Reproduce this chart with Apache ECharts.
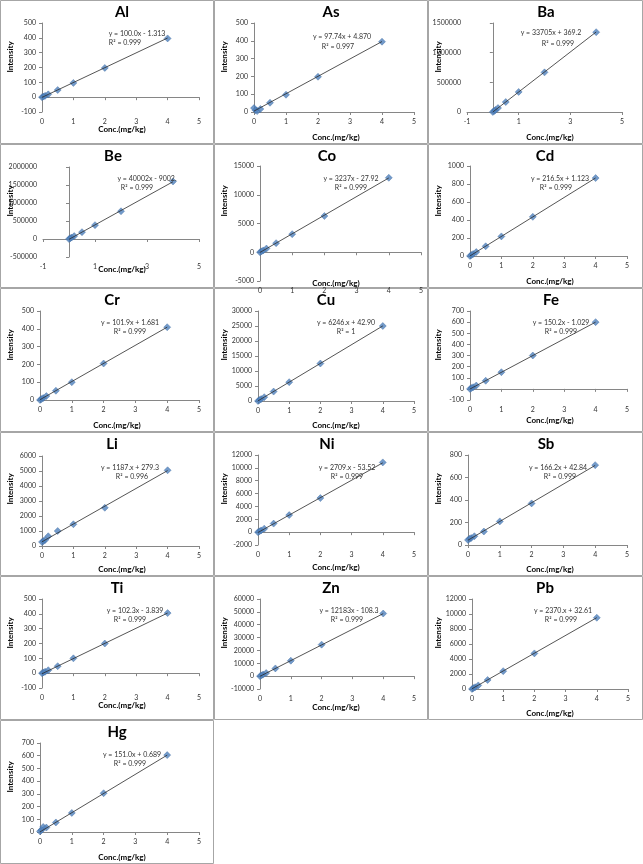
<!DOCTYPE html>
<html><head><meta charset="utf-8">
<script src="https://cdn.jsdelivr.net/npm/echarts@6/dist/echarts.min.js"></script>
<style>html,body{margin:0;padding:0;background:#fff}#c{width:643px;height:864px}</style>
</head><body><div id="c"></div>
<script>
// ---------------- data ----------------
const elements = ['Al','As','Ba','Be','Co','Cd','Cr','Cu','Fe','Li','Ni','Sb','Ti','Zn','Pb','Hg'];
const conc = [0, 0.05, 0.1, 0.2, 0.5, 1, 2, 4];
const intensityAl = [0, 4, 9, 19, 48, 96, 197, 396];
const intensityAs = [22, 10, 5, 17, 52, 97, 198, 395];
const intensityBa = [1000, 17000, 34000, 67000, 168000, 338000, 668000, 1345000];
const intensityBe = [0, 20000, 40000, 80000, 190000, 385000, 770000, 1600000];
const intensityCo = [0, 160, 320, 640, 1580, 3150, 6300, 12950];
const intensityCd = [0, 11, 22, 44, 108, 218, 435, 866];
const intensityCr = [0, 5, 11, 22, 52, 100, 205, 409];
const intensityCu = [0, 320, 640, 1280, 3150, 6280, 12500, 25000];
const intensityFe = [0, 8, 15, 30, 73, 150, 300, 600];
const intensityLi = [270, 330, 400, 650, 1000, 1450, 2550, 5050];
const intensityNi = [0, 130, 270, 540, 1330, 2650, 5300, 10850];
const intensitySb = [45, 55, 62, 78, 120, 210, 370, 710];
const intensityTi = [0, 5, 10, 20, 47, 100, 200, 405];
const intensityZn = [0, 600, 1200, 2400, 6000, 12000, 24500, 48700];
const intensityPb = [0, 120, 240, 480, 1200, 2380, 4750, 9500];
const intensityHg = [5, 15, 40, 35, 75, 150, 305, 605];
const intensities = [intensityAl, intensityAs, intensityBa, intensityBe, intensityCo, intensityCd, intensityCr, intensityCu,
  intensityFe, intensityLi, intensityNi, intensitySb, intensityTi, intensityZn, intensityPb, intensityHg];
// trendline slope / intercept as drawn (Ba and Be labels show a truncated slope; the drawn line follows the points)
const slopes = [100.0, 97.74, 337050, 400020, 3237, 216.5, 101.9, 6246, 150.2, 1187, 2709, 166.2, 102.3, 12183, 2370, 151.0];
const intercepts = [-1.313, 4.870, 369.2, -9002, -27.92, 1.123, 1.681, 42.90, -1.029, 279.3, -53.52, 42.84, -3.839, -108.3, 32.61, 0.689];
const eqLabels = ['y = 100.0x - 1.313','y = 97.74x + 4.870','y = 33705x + 369.2','y = 40002x - 9002.','y = 3237x - 27.92',
  'y = 216.5x + 1.123','y = 101.9x + 1.681','y = 6246.x + 42.90','y = 150.2x - 1.029','y = 1187.x + 279.3',
  'y = 2709.x - 53.52','y = 166.2x + 42.84','y = 102.3x - 3.839','y = 12183x - 108.3','y = 2370.x + 32.61','y = 151.0x + 0.689'];
const r2Labels = ['R² = 0.999','R² = 0.997','R² = 0.999','R² = 0.999','R² = 0.999','R² = 0.999','R² = 0.999','R² = 1',
  'R² = 0.999','R² = 0.996','R² = 0.999','R² = 0.999','R² = 0.999','R² = 0.999','R² = 0.999','R² = 0.999'];
const yMin  = [-100, 0, 0, -500000, -5000, 0, 0, 0, -100, 0, -2000, 0, -100, -10000, 0, 0];
const yMax  = [500, 500, 1500000, 2000000, 15000, 1000, 500, 30000, 700, 6000, 12000, 800, 500, 60000, 12000, 700];
const yStep = [100, 100, 500000, 500000, 5000, 200, 100, 5000, 100, 1000, 2000, 200, 100, 10000, 2000, 100];
const xMin  = [0, 0, -1, -1, 0, 0, 0, 0, 0, 0, 0, 0, 0, 0, 0, 0];
const xMax  = [5, 5, 5, 5, 5, 5, 5, 5, 5, 5, 5, 5, 5, 5, 5, 5];
const xStep = [1, 1, 2, 2, 1, 1, 1, 1, 1, 1, 1, 1, 1, 1, 1, 1];
const xTitle = 'Conc.(mg/kg)';
const yTitle = 'Intensity';

// ---------------- layout (panel-relative pixels) ----------------
// [x0, x1, y0, y1, titleX, eqX, eqY, r2X, r2Y, xNameX, xNameY]
const layout = [
  [42,199,23,112, 122, 137,34, 125,43, 122,129],
  [40,200,23,112, 117, 128,37, 124,47, 122,137],
  [39,194,23,112, 118, 123,33, 130,44, 122,137],
  [43,199,23,113, 113, 147,35, 137,44, 122,125],
  [46,207,22,137, 113, 137,35, 137,44, 122,139],
  [42,199,22,112, 117, 132,35, 128,44, 122,137],
  [40,199,23,112, 112, 130,35, 130,44, 117,137],
  [44,200,23,113, 112, 132,35, 132,44, 122,137],
  [42,199,23,112, 123, 133,35, 133,44, 122,132],
  [42,199,24,114, 112, 130,36, 132,45, 122,137],
  [44,200,23,113, 113, 133,36, 133,45, 122,135],
  [40,199,23,113, 118, 130,36, 132,45, 122,137],
  [42,199,23,112, 117, 135,35, 130,44, 122,129],
  [46,200,23,113, 117, 135,35, 133,44, 122,131],
  [44,200,23,113, 117, 135,35, 133,44, 122,137],
  [40,199,23,112, 117, 132,35, 130,44, 122,137]
];
const PW = 214, PH = 144;
const FONT = 'Lato, "Liberation Sans", sans-serif';
const axisColor = '#868686';
const textColor = '#333333';

const grids = [], xAxes = [], yAxes = [], series = [], graphics = [];
elements.forEach((el, i) => {
  const col = i % 3, row = Math.floor(i / 3);
  const ox = col * PW, oy = row * PH;
  const L = layout[i];
  const w = col === 2 ? 214 : 213;
  graphics.push({type:'rect', shape:{x: ox + 0.5, y: oy + 0.5, width: w, height: PH - 1},
    style:{fill:'none', stroke:'#a6a6a6', lineWidth:1}, silent:true, z:0});
  grids.push({left: ox + L[0], top: oy + L[2], width: L[1] - L[0], height: L[3] - L[2], containLabel:false});
  const axisCommon = () => ({
    axisLine:{show:true, onZero:true, lineStyle:{color:axisColor, width:1}},
    axisTick:{show:true, inside:false, length:3, lineStyle:{color:axisColor}},
    axisLabel:{fontSize:7, color:textColor, fontFamily:FONT, margin:6, formatter: v => String(v)},
    splitLine:{show:false}
  });
  xAxes.push(Object.assign({type:'value', gridIndex:i, min:xMin[i], max:xMax[i], interval:xStep[i]}, axisCommon()));
  yAxes.push(Object.assign({type:'value', gridIndex:i, min:yMin[i], max:yMax[i], interval:yStep[i]}, axisCommon()));
  series.push({type:'scatter', xAxisIndex:i, yAxisIndex:i,
    data: conc.map((c, k) => [c, intensities[i][k]]),
    symbol:'diamond', symbolSize:7,
    itemStyle:{color:'#4f81bd', borderColor:'#3b6aa0', borderWidth:0.5}, z:2});
  const cx0 = Math.min(...conc), cx1 = Math.max(...conc);
  series.push({type:'line', xAxisIndex:i, yAxisIndex:i,
    data: [[cx0, slopes[i] * cx0 + intercepts[i]], [cx1, slopes[i] * cx1 + intercepts[i]]],
    symbol:'none', lineStyle:{color:'#2a2a2a', width:0.8}, z:3});
  const txt = (x, y, text, font, fill, extra) => graphics.push(Object.assign({type:'text', x: ox + x, y: oy + y, silent:true, z:10,
    style:{text, font, fill, textAlign:'center', verticalAlign:'middle', textVerticalAlign:'middle'}}, extra || {}));
  txt(L[4], 12, el, 'bold 15px ' + FONT, '#000');
  txt(L[5], L[6], eqLabels[i], '7px ' + FONT, textColor);
  txt(L[7], L[8], r2Labels[i], '7px ' + FONT, textColor);
  txt(L[9], L[10], xTitle, 'bold 8px ' + FONT, '#000');
  txt(10, 57, yTitle, 'bold 8px ' + FONT, '#000', {rotation: Math.PI / 2});
});

const chart = echarts.init(document.getElementById('c'), null, {renderer:'canvas'});
chart.setOption({
  animation:false,
  backgroundColor:'#ffffff',
  grid: grids, xAxis: xAxes, yAxis: yAxes, series: series,
  graphic: graphics
});
</script>
</body></html>
